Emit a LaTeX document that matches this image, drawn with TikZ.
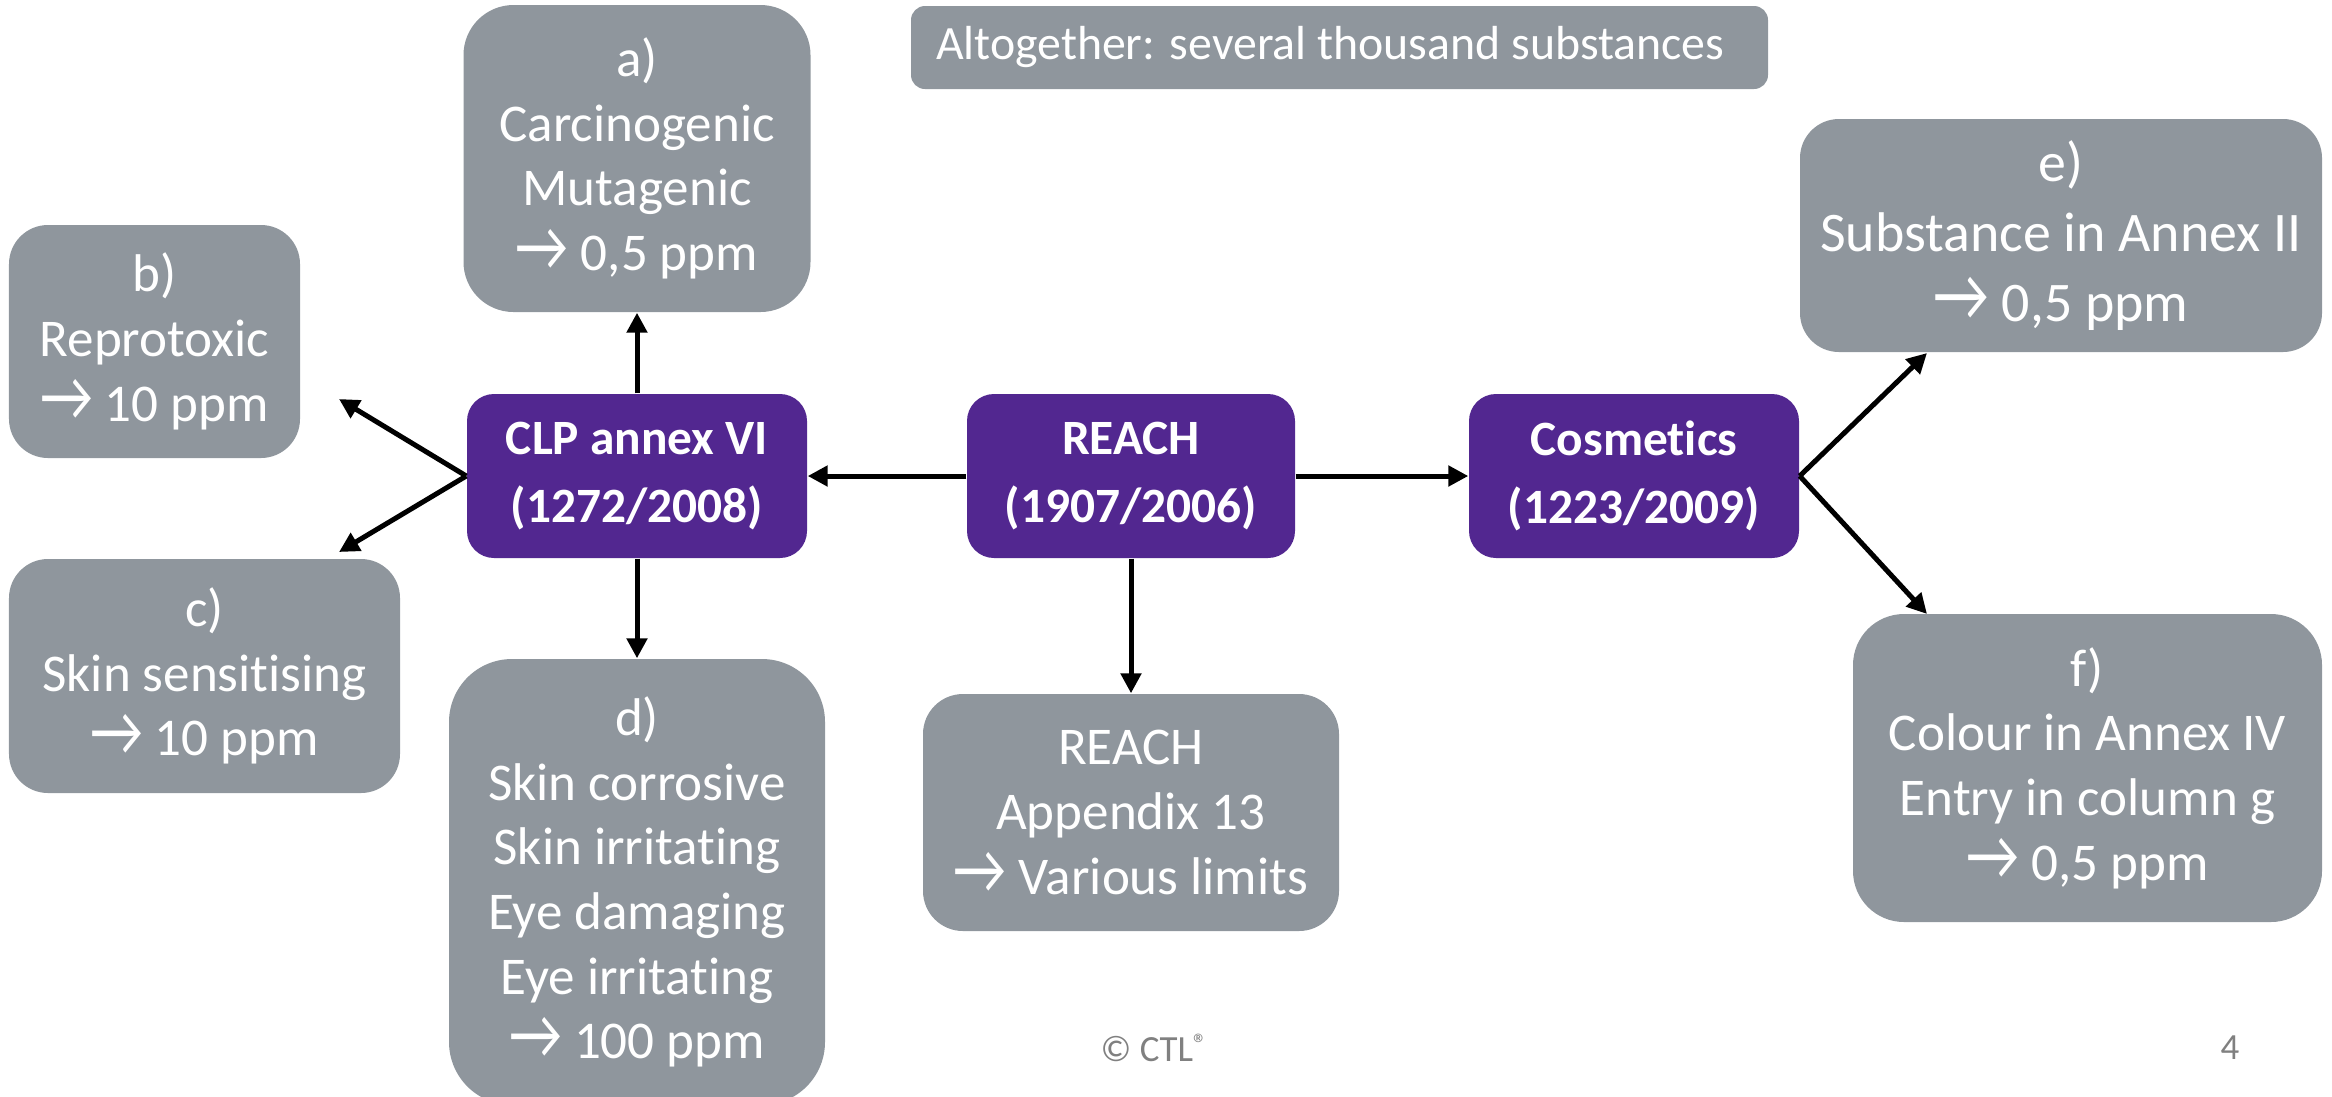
\documentclass[tikz,border=0pt]{standalone}
\usepackage{fontspec}
\usepackage{graphicx}
\setmainfont{Carlito}[Ligatures=NoCommon]
\usetikzlibrary{arrows.meta}
\definecolor{boxgray}{RGB}{143,150,157}
\definecolor{lawpurple}{RGB}{82,39,144}
\colorlet{footgray}{black!50}
\newcommand\limarrow{\raisebox{0.01em}{\scalebox{1.1}[1.35]{→}}}

\tikzset{
  limitbox/.style={fill=boxgray, text=white, align=center, inner sep=0,
    font=\fontsize{15.1}{18.4}\selectfont},
  lawbox/.style={fill=lawpurple, text=white, align=center, inner sep=0,
    minimum height=1.64cm, rounded corners=0.27cm,
    font=\bfseries\fontsize{14.05}{19.2}\selectfont},
  link/.style={-{Triangle[length=0.2cm,width=0.2cm]}, line width=0.05cm},
  footer/.style={text=footgray, font=\fontsize{10.5}{12}\selectfont}
}

\begin{document}
\begin{tikzpicture}
\clip (0,0) rectangle (23.32,-10.96);
\node[lawbox, minimum width=3.40cm] (clp) at (6.37,-4.76) {CLP annex VI\\(1272/2008)};
\node[lawbox, minimum width=3.28cm] (reach) at (11.31,-4.76) {REACH\\(1907/2006)};
\node[lawbox, minimum width=3.30cm] (cosm) at (16.34,-4.76) {Cosmetics\\(1223/2009)};

\node[limitbox, minimum width=3.47cm, minimum height=3.07cm, rounded corners=0.5cm] (a) at (6.37,-1.585)
  {a)\\Carcinogenic\\Mutagenic\\\limarrow\ 0,5 ppm};
\node[limitbox, minimum width=2.91cm, minimum height=2.33cm, rounded corners=0.39cm] (b) at (1.545,-3.415)
  {b)\\Reprotoxic\\\limarrow\ 10 ppm};
\node[limitbox, minimum width=3.91cm, minimum height=2.34cm, rounded corners=0.39cm] (c) at (2.045,-6.76)
  {c)\\Skin sensitising\\\limarrow\ 10 ppm};
\node[limitbox, minimum width=3.76cm, minimum height=4.46cm, rounded corners=0.63cm] (d) at (6.37,-8.82)
  {d)\\Skin corrosive\\Skin irritating\\Eye damaging\\Eye irritating\\\limarrow\ 100 ppm};
\node[limitbox, minimum width=4.16cm, minimum height=2.37cm, rounded corners=0.4cm] (appx) at (11.31,-8.125)
  {REACH\\Appendix 13\\\limarrow\ Various limits};
\node[limitbox, minimum width=5.22cm, minimum height=2.33cm, rounded corners=0.39cm,
  font=\fontsize{15.9}{19.8}\selectfont] (e) at (20.61,-2.355)
  {e)\\Substance in Annex II\\\limarrow\ 0,5 ppm};
\node[limitbox, minimum width=4.69cm, minimum height=3.08cm, rounded corners=0.51cm] (f) at (20.875,-7.68)
  {f)\\Colour in Annex IV\\Entry in column g\\\limarrow\ 0,5 ppm};
\node[limitbox, minimum width=8.57cm, minimum height=0.83cm, rounded corners=0.14cm,
  font=\fontsize{13.6}{16}\selectfont] (total) at (13.395,-0.475)
  {\makebox[8.07cm][l]{Altogether: several thousand substances}};

\coordinate (btip) at (3.39,-3.99);
\coordinate (ctip) at (3.39,-5.52);
\coordinate (etip) at (19.27,-3.53);
\coordinate (ftip) at (19.27,-6.14);

\draw[link] (clp.north) -- (a.south);
\draw[link] (clp.south) -- (d.north);
\draw[link] (clp.west) -- (btip);
\draw[link] (clp.west) -- (ctip);
\draw[link] (reach.west) -- (clp.east);
\draw[link] (reach.east) -- (cosm.west);
\draw[link] (reach.south) -- (appx.north);
\draw[link] (cosm.east) -- (etip);
\draw[link] (cosm.east) -- (ftip);

\node[footer] (copy) at (11.54,-10.48) {© CTL{\fontsize{8}{8}\selectfont\raisebox{0.55ex}{®}}};
\node[footer] (page) at (22.30,-10.48) {4};
\end{tikzpicture}
\end{document}
